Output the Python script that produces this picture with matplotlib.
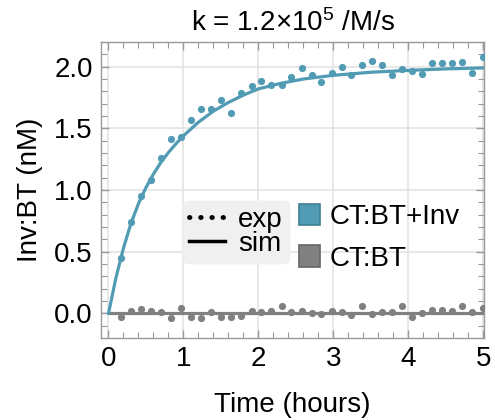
import matplotlib
matplotlib.use("Agg")
import matplotlib.pyplot as plt
from matplotlib.lines import Line2D
from matplotlib.patches import Patch
from matplotlib.ticker import MultipleLocator

plt.rcParams["font.family"] = ["Liberation Sans", "DejaVu Sans"]
plt.rcParams["mathtext.default"] = "regular"

# ── data ────────────────────────────────────────────────────────────────────
t_exp = [0.165, 0.30, 0.43, 0.565, 0.70, 0.83, 0.97, 1.10, 1.24, 1.37,
         1.50, 1.64, 1.77, 1.91, 2.04, 2.17, 2.31, 2.44, 2.58, 2.71,
         2.84, 2.98, 3.11, 3.24, 3.38, 3.51, 3.65, 3.78, 3.91, 4.05,
         4.18, 4.32, 4.45, 4.58, 4.72, 4.85, 4.99]
inv_exp = [0.45, 0.74, 0.95, 1.08, 1.26, 1.41, 1.43, 1.565, 1.66, 1.66,
           1.726, 1.628, 1.788, 1.842, 1.883, 1.85, 1.848, 1.918, 1.986, 1.929,
           1.875, 1.945, 2.00, 1.935, 2.01, 2.046, 2.01, 1.935, 1.978, 1.962,
           1.943, 2.03, 2.027, 2.03, 2.035, 1.946, 2.08]
ctrl_exp = [-0.027, 0.019, 0.032, 0.019, 0.008, -0.04, 0.04, -0.027, -0.04, 0.008,
            -0.027, -0.027, -0.02, 0.019, 0.008, 0.019, 0.059, 0.008, 0.022, 0.0,
            -0.008, 0.019, 0.008, -0.013, 0.062, -0.005, 0.008, 0.013, 0.062, -0.027,
            0.0, 0.027, 0.027, 0.019, 0.062, 0.013, 0.04]

t_sim = [0, 0.1, 0.2, 0.3, 0.4, 0.5, 0.6, 0.7, 0.8, 0.9, 1.0, 1.2, 1.4, 1.6,
         1.8, 2.0, 2.3, 2.6, 3.0, 3.5, 4.0, 4.5, 5.0]
inv_sim = [0, 0.29, 0.53, 0.73, 0.89, 1.02, 1.13, 1.225, 1.305, 1.375, 1.44,
           1.55, 1.64, 1.71, 1.77, 1.82, 1.865, 1.90, 1.93, 1.955, 1.97, 1.982, 1.99]
ctrl_sim = [0.0] * len(t_sim)

series = ["CT:BT+Inv", "CT:BT"]
colors = {"CT:BT+Inv": "#519cb4", "CT:BT": "#808080"}
edges = {"CT:BT+Inv": "#3f7f93", "CT:BT": "#666666"}

fig = plt.figure(figsize=(4.95, 4.2), dpi=100)
ax = fig.add_axes([0.204, 0.195, 0.774, 0.705])

for name, ye, ys in [("CT:BT", ctrl_exp, ctrl_sim), ("CT:BT+Inv", inv_exp, inv_sim)]:
    ax.plot(t_exp, ye, "o", ms=5.2, color=colors[name], mec="none", zorder=3)
    ax.plot(t_sim, ys, "-", lw=2.3, color=colors[name], zorder=4,
            solid_capstyle="round")

ax.set_xlim(-0.1, 5.01)
ax.set_ylim(-0.2, 2.2)
ax.xaxis.set_major_locator(MultipleLocator(1))
ax.xaxis.set_minor_locator(MultipleLocator(0.2))
ax.yaxis.set_major_locator(MultipleLocator(0.5))
ax.yaxis.set_minor_locator(MultipleLocator(0.1))
ax.yaxis.set_major_formatter(matplotlib.ticker.FormatStrFormatter("%.1f"))
ax.grid(True, which="major", color="#e4e4e4", lw=1.2, zorder=0)
ax.set_axisbelow(True)
ax.tick_params(which="both", direction="in", top=True, right=True,
               color="#999999", labelsize=20, pad=6)
ax.tick_params(which="major", length=6, width=1)
ax.tick_params(which="minor", length=4, width=0.8)
for s in ax.spines.values():
    s.set_color("#999999")
    s.set_linewidth(1)

ax.set_xlabel("Time (hours)", fontsize=20, labelpad=14)
ax.set_ylabel("Inv:BT (nM)", fontsize=20, labelpad=8)
ax.set_title("k = 1.2×10$^{5}$ /M/s", fontsize=20, pad=8)

style_handles = [Line2D([], [], color="black", ls=(0, (0.1, 2.2)), lw=3.5,
                        dash_capstyle="round"),
                 Line2D([], [], color="black", ls="-", lw=2.5)]
leg1 = fig.legend(style_handles, ["exp", "sim"], loc="upper left",
                  bbox_to_anchor=(0.37, 0.522), fontsize=20, frameon=True,
                  fancybox=True, facecolor="#f0f0f0", edgecolor="#f0f0f0",
                  framealpha=1, handlelength=1.3, handletextpad=0.45,
                  labelspacing=-0.08, borderpad=0.22, borderaxespad=0)
fig.add_artist(leg1)

patch_handles = [Patch(facecolor=colors[n], edgecolor=edges[n], lw=1.2) for n in series]
fig.legend(patch_handles, series, loc="upper left",
           bbox_to_anchor=(0.604, 0.515), fontsize=20, frameon=False,
           handlelength=0.75, handleheight=0.8, handletextpad=0.35,
           labelspacing=0.55, borderpad=0, borderaxespad=0)

fig.savefig("out.png", dpi=100)
